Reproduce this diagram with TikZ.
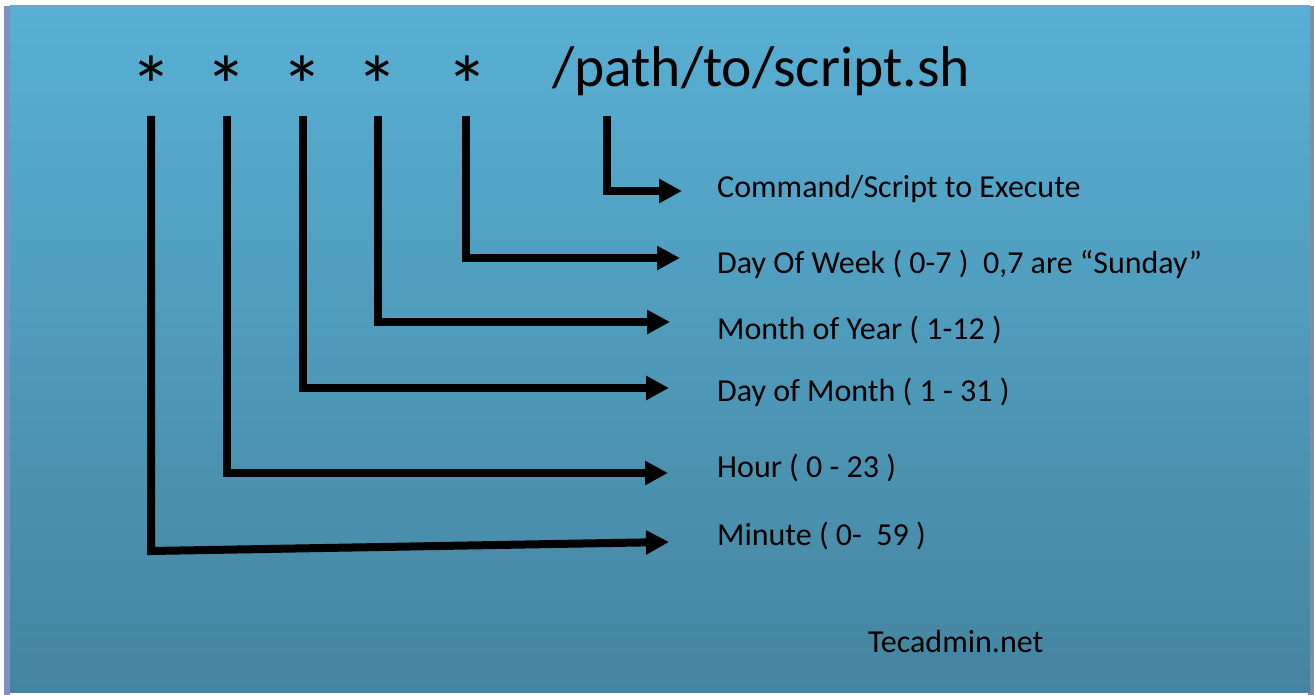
\documentclass[tikz,border=0pt]{standalone}
\usepackage{fontspec}
\setmainfont{Carlito}
\usetikzlibrary{arrows.meta}
\definecolor{bgtop}{HTML}{58B0D4}
\definecolor{bgbot}{HTML}{4584A0}
\definecolor{edgeL}{HTML}{8190C0}
\definecolor{edgeR}{HTML}{7A8FA8}
\begin{document}
\begin{tikzpicture}[x=1pt,y=-1pt,
  conn/.style={line width=8pt, line join=miter, -{Triangle[length=23pt,width=23pt]}},
  lab/.style={anchor=base west, inner sep=0pt, font=\fontsize{32}{32}\selectfont},
  star/.style={anchor=north, inner sep=0pt, font=\fontsize{84}{84}\selectfont}]
\useasboundingbox (0,0) rectangle (1314,695);
\fill[white] (0,0) rectangle (1314,695);
\fill[edgeL] (4,6) rectangle (10,695);
\fill[edgeR] (1308,6) rectangle (1314,695);
\shade[top color=bgtop, bottom color=bgbot] (10,6) rectangle (1310,692);
% top line
\node[star] (s1) at (151,56) {*};
\node[star] (s2) at (226,56) {*};
\node[star] (s3) at (302,56) {*};
\node[star] (s4) at (377,56) {*};
\node[star] (s5) at (467,56) {*};
\node[anchor=base west, inner sep=0pt, font=\fontsize{57.5}{57.5}\selectfont] (cmd) at (552,87) {/path/to/script.sh};
% labels
\node[lab] (l6) at (717,197) {Command/Script to Execute};
\node[lab] (l5) at (717,273) {Day Of Week ( 0-7 )\ \ 0,7 are “Sunday”};
\node[lab] (l4) at (717,339) {Month of Year ( 1-12 )};
\node[lab] (l3) at (717,401) {Day of Month ( 1 - 31 )};
\node[lab] (l2) at (717,477) {Hour ( 0 - 23 )};
\node[lab] (l1) at (717,545) {Minute ( 0-\ \ 59 )};
\node[lab] (site) at (868,652) {Tecadmin.net};
% connector points
\coordinate (t6) at (607,116); \coordinate (c6) at (607,191); \coordinate (e6) at (682,191);
\coordinate (t5) at (466,116); \coordinate (c5) at (466,258); \coordinate (e5) at (680,258);
\coordinate (t4) at (378,116); \coordinate (c4) at (378,322); \coordinate (e4) at (670,322);
\coordinate (t3) at (303,116); \coordinate (c3) at (303,388); \coordinate (e3) at (669,388);
\coordinate (t2) at (227,116); \coordinate (c2) at (227,473); \coordinate (e2) at (668,473);
\coordinate (t1) at (151,116); \coordinate (c1) at (151,551); \coordinate (e1) at (669,542);
\draw[conn] (t6) -- (c6) -- (e6);
\draw[conn] (t5) -- (c5) -- (e5);
\draw[conn] (t4) -- (c4) -- (e4);
\draw[conn] (t3) -- (c3) -- (e3);
\draw[conn] (t2) -- (c2) -- (e2);
\draw[conn] (t1) -- (c1) -- (e1);
\end{tikzpicture}
\end{document}
